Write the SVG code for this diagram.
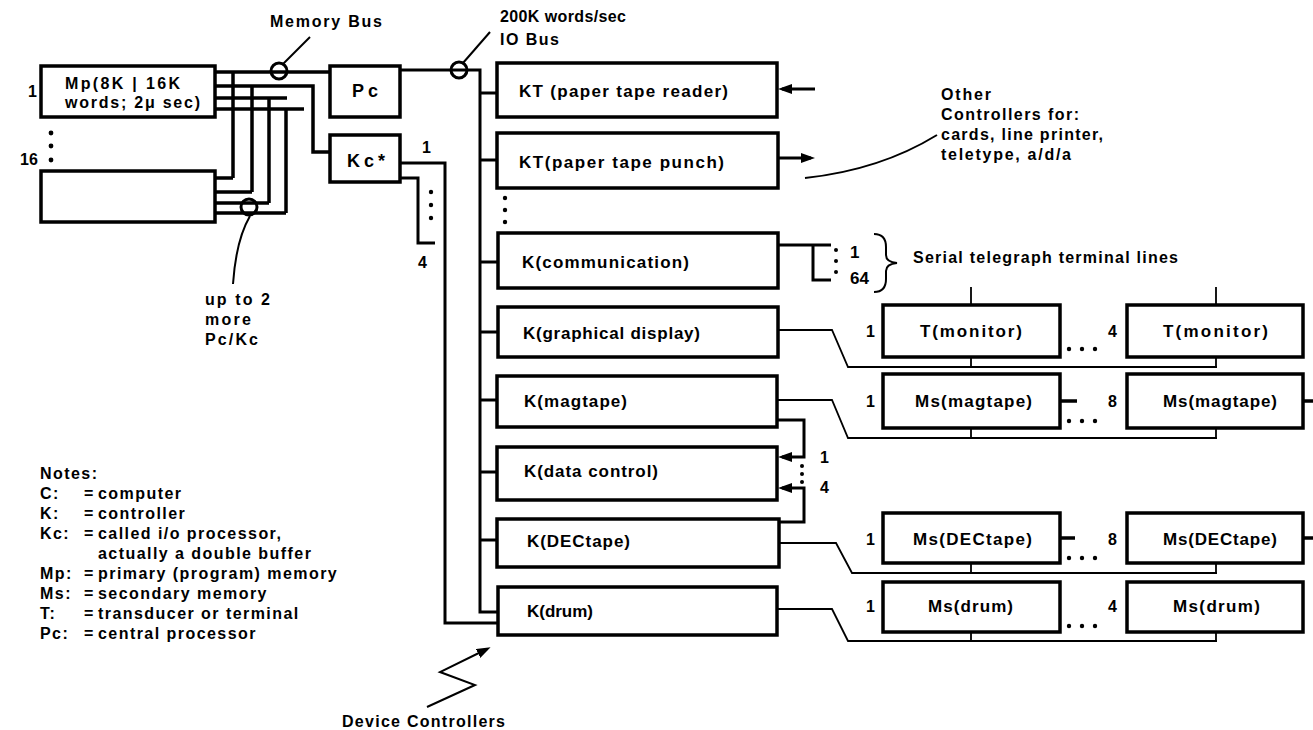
<svg xmlns="http://www.w3.org/2000/svg" width="1313" height="730" viewBox="0 0 1313 730">
<style>
text{font-family:"Liberation Sans",Arial,Helvetica,sans-serif;font-weight:bold;font-size:16px;fill:#000}
.bl{font-size:17px}
.big{font-size:18px}
.nt{letter-spacing:1.45px}
.box{fill:#fff;stroke:#000;stroke-width:3.5}
.bus{fill:none;stroke:#000;stroke-width:3.5}
.w3{fill:none;stroke:#000;stroke-width:3}
.thin{fill:none;stroke:#000;stroke-width:1.8}
.ld{fill:none;stroke:#000;stroke-width:2}
.ring{fill:none;stroke:#000;stroke-width:3}
.dot{fill:#000}
</style>
<defs>
<marker id="ah" viewBox="0 0 14 10" refX="10" refY="5" markerWidth="14" markerHeight="10" markerUnits="userSpaceOnUse" orient="auto"><path d="M0,0 L14,5 L0,10 z" fill="#000"/></marker>
</defs>
<rect width="1313" height="730" fill="#fff"/>

<g id="connectors">
  <path class="bus" d="M215,72 H330"/>
  <path class="bus" d="M215,86 H313 V152 H330"/>
  <path class="bus" d="M215,98 H287"/>
  <path class="bus" d="M215,109 H304"/>
  <path class="bus" d="M233,72 V178 M252,86 V192 M269,98 V203 M286,109 V213"/>
  <path class="bus" d="M215,178 H233 M215,192 H252 M215,203 H269 M215,213 H286"/>
  <circle class="ring" cx="279" cy="71" r="8"/>
  <circle class="ring" cx="249" cy="207" r="8"/>
  <path class="ld" d="M283,64 L310,37"/>
  <path class="ld" d="M250,216 Q236,240 233,284"/>
  <path class="w3" d="M400,70 H480 V612 H498"/>
  <circle class="ring" cx="459" cy="70" r="8"/>
  <path class="ld" d="M463,63 L490,32"/>
  <path class="w3" d="M480,93 H497 M480,160 H497 M480,262 H498 M480,332 H498 M480,400 H497 M480,472 H497 M480,540 H497"/>
  <circle class="dot" cx="505" cy="198" r="2.2"/>
  <circle class="dot" cx="505" cy="210" r="2.2"/>
  <circle class="dot" cx="505" cy="222" r="2.2"/>
  <path class="w3" d="M400,163 H445 V623 H498"/>
  <path class="w3" d="M400,178 H418 V243 H435"/>
  <circle class="dot" cx="431" cy="192" r="2.2"/>
  <circle class="dot" cx="431" cy="205" r="2.2"/>
  <circle class="dot" cx="431" cy="218" r="2.2"/>
  <path class="w3" d="M815,89 H782" marker-end="url(#ah)"/>
  <path class="w3" d="M778,158 H811" marker-end="url(#ah)"/>
  <path class="ld" d="M805,178 Q880,170 937,135"/>
  <path class="w3" d="M778,245 H831 M813,245 V280 H831"/>
  <circle class="dot" cx="836" cy="250" r="2"/>
  <circle class="dot" cx="836" cy="261" r="2"/>
  <circle class="dot" cx="836" cy="272" r="2"/>
  <path class="ld" d="M874,234 Q886,234 886,247 L886,255 Q886,262 897,263 Q886,264 886,271 L886,279 Q886,292 874,292"/>
  <path class="thin" d="M778,330 H832 L848,367 H1217"/>
  <path class="thin" d="M971,287 V305 M1216,287 V305 M971,357 V367 M1216,357 V367"/>
  <path class="thin" d="M777,400 H832 L848,438 H1217"/>
  <path class="thin" d="M971,428 V438 M1216,428 V438"/>
  <path class="bus" d="M1060,401 H1077 M1303,401 H1313"/>
  <path class="w3" d="M777,420 H804 V457 H782" marker-end="url(#ah)"/>
  <path class="w3" d="M779,522 H804 V488 H782" marker-end="url(#ah)"/>
  <circle class="dot" cx="802" cy="466" r="2"/>
  <circle class="dot" cx="802" cy="474" r="2"/>
  <circle class="dot" cx="802" cy="482" r="2"/>
  <path class="thin" d="M779,543 H836 L852,573 H1217"/>
  <path class="thin" d="M971,563 V573 M1216,563 V573"/>
  <path class="bus" d="M1060,538 H1075 M1303,538 H1313"/>
  <path class="thin" d="M777,609 H832 L848,641 H1217"/>
  <path class="thin" d="M971,632 V641 M1216,632 V641"/>
  <path class="ld" d="M427,707 L475,685 L440,672 L487,649" marker-end="url(#ah)"/>
  <g class="dot">
    <circle cx="1069" cy="349" r="2.2"/><circle cx="1082" cy="349" r="2.2"/><circle cx="1095" cy="349" r="2.2"/>
    <circle cx="1069" cy="421" r="2.2"/><circle cx="1082" cy="421" r="2.2"/><circle cx="1095" cy="421" r="2.2"/>
    <circle cx="1069" cy="558" r="2.2"/><circle cx="1082" cy="558" r="2.2"/><circle cx="1095" cy="558" r="2.2"/>
    <circle cx="1069" cy="626" r="2.2"/><circle cx="1082" cy="626" r="2.2"/><circle cx="1095" cy="626" r="2.2"/>
  </g>
</g>

<g id="mp1"><rect class="box" x="41" y="66" width="174" height="51"/>
  <text x="65" y="89" textLength="115">Mp(8K | 16K</text>
  <text x="65" y="108" textLength="135">words; 2μ sec)</text></g>
<g id="mp16"><rect class="box" x="41" y="171" width="174" height="51"/></g>
<g id="mp-labels">
  <text x="28" y="97">1</text>
  <text x="20" y="165">16</text>
  <circle class="dot" cx="51" cy="133" r="2.4"/><circle class="dot" cx="51" cy="146" r="2.4"/><circle class="dot" cx="51" cy="160" r="2.4"/>
</g>
<g id="pc"><rect class="box" x="330" y="66" width="70" height="51"/><text class="big" x="352" y="97" textLength="26">Pc</text></g>
<g id="kc"><rect class="box" x="330" y="135" width="70" height="47"/><text class="big" x="347" y="167" textLength="38">Kc*</text></g>

<g id="kt-reader"><rect class="box" x="497" y="63" width="280" height="54"/><text class="bl" x="519" y="97" textLength="209">KT (paper tape reader)</text></g>
<g id="kt-punch"><rect class="box" x="497" y="133" width="281" height="55"/><text class="bl" x="519" y="168" textLength="205">KT(paper tape punch)</text></g>
<g id="k-comm"><rect class="box" x="498" y="233" width="280" height="55"/><text class="bl" x="522" y="268" textLength="167">K(communication)</text></g>
<g id="k-graph"><rect class="box" x="498" y="307" width="280" height="50"/><text class="bl" x="523" y="339" textLength="177">K(graphical display)</text></g>
<g id="k-mag"><rect class="box" x="497" y="376" width="280" height="51"/><text class="bl" x="524" y="407" textLength="103">K(magtape)</text></g>
<g id="k-data"><rect class="box" x="497" y="447" width="280" height="53"/><text class="bl" x="524" y="477" textLength="134">K(data control)</text></g>
<g id="k-dec"><rect class="box" x="497" y="519" width="282" height="48"/><text class="bl" x="527" y="547" textLength="103">K(DECtape)</text></g>
<g id="k-drum"><rect class="box" x="498" y="587" width="279" height="48"/><text class="bl" x="527" y="617" textLength="66">K(drum)</text></g>

<g id="t-mon1"><rect class="box" x="883" y="305" width="177" height="52"/><text class="bl" x="920" y="337" textLength="102">T(monitor)</text></g>
<g id="t-mon4"><rect class="box" x="1127" y="305" width="176" height="52"/><text class="bl" x="1163" y="337" textLength="105">T(monitor)</text></g>
<g id="ms-mag1"><rect class="box" x="883" y="374" width="177" height="54"/><text class="bl" x="915" y="407" textLength="117">Ms(magtape)</text></g>
<g id="ms-mag8"><rect class="box" x="1127" y="374" width="176" height="54"/><text class="bl" x="1163" y="407" textLength="114">Ms(magtape)</text></g>
<g id="ms-dec1"><rect class="box" x="883" y="513" width="177" height="50"/><text class="bl" x="913" y="545" textLength="119">Ms(DECtape)</text></g>
<g id="ms-dec8"><rect class="box" x="1127" y="513" width="176" height="50"/><text class="bl" x="1163" y="545" textLength="114">Ms(DECtape)</text></g>
<g id="ms-drum1"><rect class="box" x="883" y="582" width="177" height="50"/><text class="bl" x="928" y="612" textLength="85">Ms(drum)</text></g>
<g id="ms-drum4"><rect class="box" x="1127" y="582" width="176" height="50"/><text class="bl" x="1173" y="612" textLength="87">Ms(drum)</text></g>

<g id="labels">
  <text x="270" y="27" textLength="112">Memory Bus</text>
  <text x="500" y="22" textLength="126">200K words/sec</text>
  <text x="500" y="45" textLength="59">IO Bus</text>
  <text x="422" y="153">1</text>
  <text x="418" y="268">4</text>
  <text x="205" y="305" textLength="65">up to 2</text>
  <text x="205" y="325" textLength="46">more</text>
  <text x="205" y="345" textLength="53">Pc/Kc</text>
  <text x="941" y="100" textLength="50">Other</text>
  <text x="941" y="120" textLength="138">Controllers for:</text>
  <text x="941" y="140" textLength="162">cards, line printer,</text>
  <text x="941" y="160" textLength="130">teletype, a/d/a</text>
  <text class="bl" x="850" y="258">1</text>
  <text class="bl" x="850" y="284">64</text>
  <text x="913" y="263" textLength="265">Serial telegraph terminal lines</text>
  <text x="820" y="463">1</text>
  <text x="820" y="493">4</text>
  <text x="866" y="337">1</text>
  <text x="1108" y="337">4</text>
  <text x="866" y="407">1</text>
  <text x="1108" y="407">8</text>
  <text x="866" y="545">1</text>
  <text x="1108" y="545">8</text>
  <text x="866" y="612">1</text>
  <text x="1108" y="612">4</text>
  <text x="342" y="727" textLength="163">Device Controllers</text>
</g>

<g id="notes">
  <text class="nt" x="40" y="479">Notes:</text>
  <text class="nt" x="40" y="499">C:</text><text class="nt" x="84" y="499">=</text><text class="nt" x="98" y="499">computer</text>
  <text class="nt" x="40" y="519">K:</text><text class="nt" x="84" y="519">=</text><text class="nt" x="98" y="519">controller</text>
  <text class="nt" x="40" y="539">Kc:</text><text class="nt" x="84" y="539">=</text><text class="nt" x="98" y="539">called i/o processor,</text>
  <text class="nt" x="98" y="559">actually a double buffer</text>
  <text class="nt" x="40" y="579">Mp:</text><text class="nt" x="84" y="579">=</text><text class="nt" x="98" y="579">primary (program) memory</text>
  <text class="nt" x="40" y="599">Ms:</text><text class="nt" x="84" y="599">=</text><text class="nt" x="98" y="599">secondary memory</text>
  <text class="nt" x="40" y="619">T:</text><text class="nt" x="84" y="619">=</text><text class="nt" x="98" y="619">transducer or terminal</text>
  <text class="nt" x="40" y="639">Pc:</text><text class="nt" x="84" y="639">=</text><text class="nt" x="98" y="639">central processor</text>
</g>
</svg>
